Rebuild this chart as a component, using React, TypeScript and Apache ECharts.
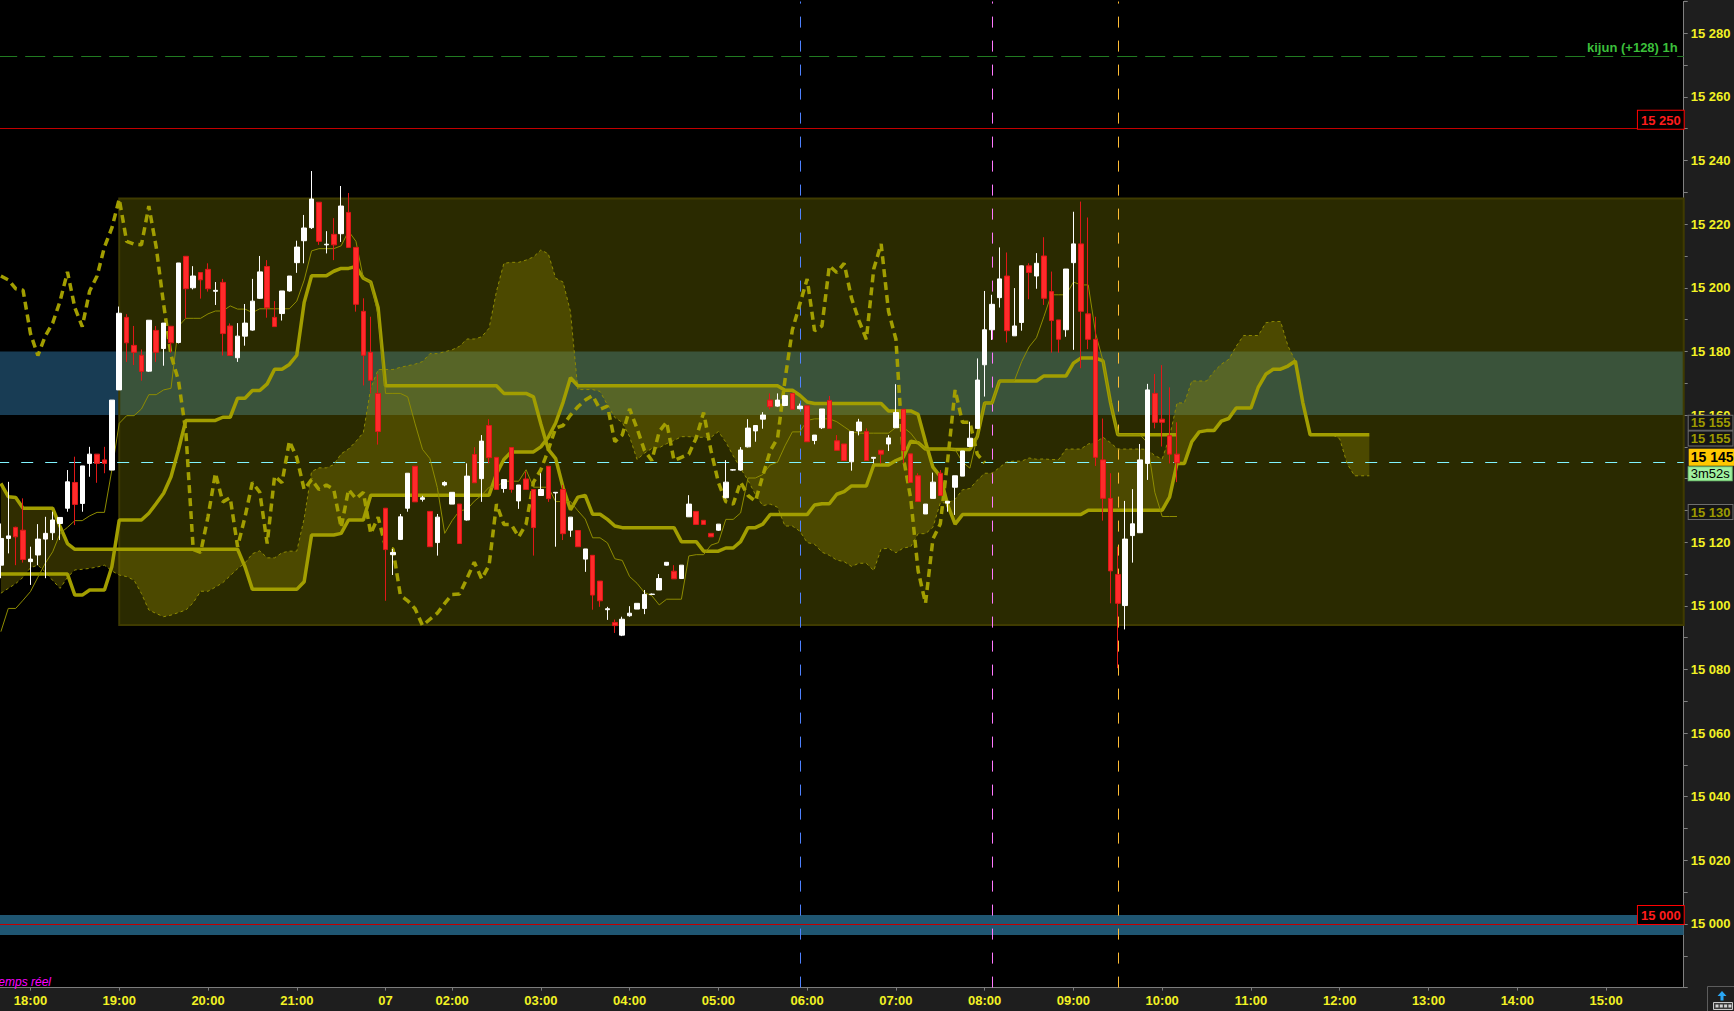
import React, { useEffect, useRef } from 'react';
import * as echarts from 'echarts';

// ---------- slots (5-minute bars); slot 0 = 18:00, slot 48 = 01:15 of day 07 ----------
const FIRST_SLOT = -4;
const SLOT_COUNT = 228;
const CHIKOU_SHIFT = 26;

const tickLabels: [number, string][] = [
  [0, '18:00'], [12, '19:00'], [24, '20:00'], [36, '21:00'], [48, '07'], [57, '02:00'],
  [69, '03:00'], [81, '04:00'], [93, '05:00'], [105, '06:00'], [117, '07:00'], [129, '08:00'],
  [141, '09:00'], [153, '10:00'], [165, '11:00'], [177, '12:00'], [189, '13:00'], [201, '14:00'],
  [213, '15:00'],
];

// [open, close, low, high] for slots -4 .. 155
const candles: number[][] = [
  [15112.8, 15121.2, 15108.7, 15125.9], [15121.2, 15122.0, 15116.5, 15139.0], [15124.7, 15121.7, 15112.8, 15124.9], [15123.8, 15114.6, 15113.6, 15133.8],
  [15113.9, 15114.7, 15106.6, 15118.6], [15116.0, 15121.0, 15112.8, 15125.7], [15121.0, 15122.8, 15108.7, 15128.0], [15123.0, 15127.0, 15120.7, 15129.6],
  [15125.9, 15127.8, 15120.7, 15127.8], [15130.7, 15139.0, 15129.6, 15142.7], [15138.8, 15131.9, 15125.4, 15146.9], [15132.2, 15144.0, 15129.6, 15144.0],
  [15144.8, 15147.7, 15140.6, 15150.0], [15147.7, 15144.8, 15138.7, 15147.7], [15145.9, 15144.8, 15141.7, 15150.0], [15142.7, 15164.7, 15142.7, 15164.7],
  [15167.9, 15192.0, 15167.9, 15194.1], [15190.7, 15182.7, 15176.7, 15191.7], [15181.9, 15179.7, 15175.7, 15188.0], [15178.8, 15173.7, 15170.8, 15180.6],
  [15173.8, 15189.8, 15173.6, 15189.8], [15186.6, 15179.7, 15176.7, 15188.0], [15180.9, 15188.9, 15175.5, 15188.9], [15187.9, 15182.7, 15179.6, 15187.9],
  [15182.8, 15207.8, 15182.5, 15207.8], [15209.9, 15199.7, 15190.4, 15209.9], [15200.0, 15203.7, 15199.5, 15206.8], [15204.8, 15202.5, 15196.6, 15204.8],
  [15205.8, 15199.7, 15198.8, 15207.7], [15198.9, 15199.2, 15194.6, 15201.8], [15201.7, 15185.6, 15178.7, 15202.8], [15188.0, 15178.7, 15178.7, 15188.8],
  [15178.0, 15184.8, 15176.7, 15188.9], [15184.8, 15188.9, 15181.8, 15194.9], [15186.7, 15195.8, 15186.5, 15202.8], [15196.7, 15205.0, 15196.5, 15210.0],
  [15206.7, 15193.7, 15190.6, 15208.7], [15190.7, 15187.8, 15187.8, 15195.8], [15191.9, 15199.0, 15189.7, 15199.0], [15199.0, 15203.7, 15198.8, 15203.7],
  [15207.9, 15212.8, 15204.7, 15214.8], [15214.8, 15218.8, 15207.7, 15222.9], [15218.9, 15227.9, 15218.5, 15236.7], [15226.9, 15214.6, 15213.5, 15226.9],
  [15213.5, 15213.7, 15210.8, 15217.8], [15216.8, 15213.5, 15208.7, 15221.9], [15217.0, 15225.7, 15214.4, 15232.0], [15223.7, 15212.7, 15212.7, 15229.8],
  [15212.7, 15194.8, 15192.5, 15212.7], [15192.6, 15178.8, 15169.3, 15196.7], [15179.7, 15170.9, 15166.8, 15190.9], [15166.8, 15154.8, 15150.7, 15172.8],
  [15130.7, 15117.7, 15101.6, 15130.7], [15116.1, 15116.8, 15109.7, 15117.9], [15120.9, 15128.0, 15120.7, 15128.9], [15130.7, 15141.7, 15129.6, 15141.7],
  [15143.9, 15132.7, 15132.7, 15143.9], [15133.5, 15134.0, 15132.8, 15134.6], [15129.7, 15118.6, 15118.6, 15129.7], [15119.9, 15127.9, 15115.8, 15128.9],
  [15138.0, 15138.8, 15137.6, 15139.2], [15132.0, 15135.7, 15132.0, 15135.7], [15132.0, 15119.6, 15119.6, 15132.0], [15127.0, 15140.8, 15126.8, 15144.8],
  [15147.6, 15138.7, 15138.7, 15149.9], [15140.0, 15151.8, 15132.7, 15153.7], [15156.7, 15146.6, 15144.8, 15158.7], [15146.7, 15136.6, 15136.6, 15146.7],
  [15136.9, 15139.7, 15135.6, 15139.7], [15149.8, 15136.6, 15135.6, 15149.8], [15133.0, 15138.0, 15130.5, 15138.0], [15139.9, 15136.6, 15136.6, 15142.2],
  [15136.6, 15124.6, 15115.8, 15136.6], [15134.7, 15136.6, 15134.7, 15141.7], [15143.9, 15133.7, 15132.7, 15143.9], [15135.5, 15135.7, 15118.6, 15135.7],
  [15136.6, 15122.7, 15120.7, 15138.0], [15123.8, 15127.9, 15121.7, 15127.9], [15123.7, 15118.6, 15118.6, 15123.7], [15114.7, 15117.9, 15110.7, 15117.9],
  [15115.9, 15103.4, 15098.8, 15115.9], [15107.8, 15101.6, 15099.7, 15107.8], [15098.8, 15099.1, 15095.6, 15099.7], [15094.8, 15093.8, 15091.5, 15095.7],
  [15090.8, 15095.8, 15090.5, 15096.6], [15096.9, 15097.7, 15096.6, 15099.9], [15099.0, 15100.8, 15099.0, 15100.8], [15099.2, 15103.6, 15097.4, 15105.0],
  [15103.6, 15103.7, 15103.4, 15103.9], [15105.0, 15108.6, 15105.0, 15110.0], [15112.8, 15113.7, 15112.6, 15113.7], [15110.9, 15108.5, 15108.5, 15112.8],
  [15108.6, 15112.8, 15108.5, 15112.8], [15128.0, 15132.0, 15128.0, 15134.8], [15129.7, 15125.6, 15125.6, 15129.7], [15126.9, 15125.6, 15125.6, 15126.9],
  [15122.8, 15121.7, 15121.7, 15122.8], [15123.8, 15125.7, 15123.6, 15125.7], [15134.0, 15138.9, 15133.8, 15145.8], [15142.7, 15142.8, 15142.5, 15143.0],
  [15142.7, 15149.0, 15142.5, 15149.9], [15150.0, 15155.9, 15149.8, 15158.7], [15155.0, 15156.7, 15151.6, 15156.7], [15158.7, 15160.0, 15155.7, 15160.9],
  [15164.7, 15162.6, 15161.8, 15166.8], [15162.8, 15164.7, 15162.6, 15166.8], [15163.0, 15166.1, 15162.8, 15166.3], [15166.8, 15161.8, 15161.8, 15166.8],
  [15162.0, 15162.8, 15161.8, 15163.6], [15162.9, 15151.6, 15151.6, 15162.9], [15152.0, 15153.7, 15150.8, 15153.7], [15156.0, 15161.9, 15155.6, 15161.9],
  [15164.6, 15155.8, 15155.8, 15166.0], [15151.9, 15148.9, 15148.9, 15153.7], [15150.9, 15145.7, 15145.7, 15150.9], [15145.3, 15154.8, 15142.5, 15154.8],
  [15155.0, 15157.8, 15153.6, 15158.8], [15154.8, 15145.7, 15145.7, 15155.8], [15146.4, 15146.7, 15144.8, 15146.7], [15148.9, 15147.7, 15144.8, 15148.9],
  [15150.9, 15152.8, 15148.7, 15153.7], [15156.0, 15160.8, 15156.0, 15169.7], [15161.8, 15148.8, 15144.8, 15161.8], [15147.8, 15138.8, 15138.8, 15147.8],
  [15140.9, 15132.8, 15132.8, 15141.7], [15128.9, 15132.0, 15128.9, 15132.0], [15133.8, 15138.9, 15133.8, 15141.9], [15141.7, 15134.7, 15134.7, 15142.7],
  [15132.3, 15132.9, 15129.6, 15132.9], [15137.3, 15140.9, 15128.6, 15140.9], [15140.8, 15148.7, 15140.8, 15148.7], [15150.1, 15152.7, 15150.1, 15157.9],
  [15155.8, 15171.0, 15155.8, 15177.8], [15175.8, 15186.8, 15165.8, 15199.0], [15186.8, 15194.8, 15183.6, 15197.8], [15196.9, 15202.8, 15193.8, 15212.7],
  [15203.7, 15186.5, 15182.8, 15211.1], [15184.9, 15188.0, 15184.9, 15199.9], [15189.1, 15206.9, 15186.5, 15207.0], [15206.9, 15204.8, 15196.4, 15207.7],
  [15203.7, 15207.7, 15199.7, 15210.9], [15210.0, 15196.7, 15194.6, 15215.9], [15198.8, 15189.7, 15179.6, 15205.1], [15189.9, 15183.8, 15179.6, 15189.9],
  [15186.8, 15205.9, 15184.6, 15205.9], [15207.9, 15213.8, 15180.5, 15223.9], [15213.8, 15192.6, 15174.7, 15227.1], [15191.8, 15183.8, 15180.7, 15222.1],
  [15183.8, 15146.7, 15144.0, 15190.9], [15145.9, 15133.8, 15126.8, 15158.9], [15133.8, 15111.0, 15100.8, 15141.7], [15109.9, 15100.8, 15080.4, 15118.6],
  [15100.1, 15121.0, 15092.6, 15133.0], [15122.1, 15125.8, 15113.6, 15136.7], [15123.0, 15145.9, 15123.0, 15150.9], [15144.8, 15167.9, 15139.6, 15169.8],
  [15166.8, 15157.7, 15155.8, 15172.9], [15158.7, 15157.7, 15150.1, 15175.7], [15153.5, 15147.7, 15144.8, 15168.7], [15147.7, 15145.0, 15138.9, 15157.7],
];

// thin line (slots -4 .. 155)
const tenkan: number[] = [
  15091.9, 15099.2, 15099.2, 15101.8, 15104.5, 15109.0, 15113.4, 15117.0, 15122.8, 15124.7,
  15126.8, 15126.8, 15128.3, 15129.4, 15129.4, 15142.7, 15157.4, 15159.8, 15159.8, 15161.9,
  15166.4, 15166.4, 15167.9, 15168.4, 15187.9, 15190.4, 15190.4, 15190.4, 15191.8, 15192.7,
  15192.7, 15194.3, 15193.3, 15193.3, 15192.2, 15193.4, 15193.4, 15193.4, 15193.4, 15193.4,
  15195.8, 15202.4, 15211.6, 15212.3, 15212.3, 15212.3, 15213.2, 15217.8, 15214.6, 15203.0,
  15201.8, 15191.4, 15166.8, 15166.8, 15166.8, 15165.7, 15157.2, 15149.2, 15146.3, 15137.2,
  15122.8, 15126.8, 15129.9, 15130.3, 15132.9, 15134.8, 15137.3, 15137.3, 15139.2, 15139.2,
  15139.2, 15142.8, 15137.3, 15137.3, 15137.3, 15132.8, 15132.8, 15132.8, 15129.9, 15127.3,
  15121.4, 15121.4, 15119.8, 15114.8, 15114.3, 15109.2, 15107.1, 15104.2, 15103.2, 15100.3,
  15102.1, 15102.1, 15102.1, 15115.7, 15116.1, 15116.1, 15119.1, 15119.9, 15127.2, 15127.2,
  15129.2, 15140.2, 15140.2, 15141.3, 15144.3, 15145.2, 15150.3, 15154.7, 15154.7, 15158.3,
  15158.8, 15158.8, 15158.8, 15157.9, 15156.3, 15154.7, 15154.3, 15154.3, 15154.3, 15154.3,
  15154.3, 15156.1, 15156.1, 15154.3, 15151.3, 15149.3, 15149.3, 15149.3, 15149.3, 15149.2,
  15145.2, 15143.3, 15153.2, 15163.8, 15163.8, 15170.7, 15170.7, 15170.7, 15176.8, 15181.4,
  15184.3, 15190.9, 15197.8, 15197.8, 15197.8, 15201.8, 15200.9, 15200.9, 15185.6, 15177.0,
  15164.0, 15153.8, 15153.8, 15153.8, 15153.8, 15151.3, 15135.7, 15128.1, 15128.1, 15128.1,
];

// thick base line (slots -4 .. 155)
const kijun: number[] = [
  15110.0, 15110.0, 15110.0, 15110.0, 15110.0, 15110.0, 15110.0, 15110.0, 15110.0, 15110.0,
  15103.4, 15103.4, 15105.0, 15105.0, 15105.0, 15112.3, 15127.0, 15127.0, 15127.0, 15127.0,
  15129.1, 15132.2, 15135.4, 15140.6, 15149.0, 15158.3, 15158.3, 15158.3, 15158.3, 15158.3,
  15159.3, 15159.3, 15165.3, 15165.3, 15167.7, 15167.7, 15169.8, 15174.4, 15174.4, 15175.9,
  15178.8, 15195.4, 15203.8, 15203.8, 15203.8, 15205.2, 15206.1, 15206.1, 15206.7, 15203.0,
  15201.8, 15193.7, 15169.2, 15169.2, 15169.2, 15169.2, 15169.2, 15169.2, 15169.2, 15169.2,
  15169.2, 15169.2, 15169.2, 15169.2, 15169.2, 15169.2, 15169.2, 15169.2, 15166.8, 15166.8,
  15166.8, 15166.8, 15165.7, 15157.2, 15149.2, 15146.3, 15137.2, 15130.2, 15134.2, 15134.7,
  15128.8, 15128.8, 15127.2, 15125.1, 15124.6, 15124.6, 15124.6, 15124.6, 15124.6, 15124.6,
  15124.6, 15124.6, 15120.2, 15120.2, 15120.2, 15117.2, 15117.2, 15117.2, 15118.2, 15118.2,
  15120.2, 15124.6, 15124.6, 15125.7, 15128.7, 15128.7, 15128.7, 15128.7, 15128.7, 15128.7,
  15131.7, 15132.1, 15132.1, 15135.1, 15135.9, 15137.7, 15137.7, 15137.7, 15144.3, 15144.3,
  15144.3, 15145.7, 15146.7, 15151.8, 15151.3, 15149.3, 15149.3, 15149.3, 15149.3, 15149.2,
  15149.2, 15149.2, 15153.2, 15163.8, 15163.8, 15170.7, 15170.7, 15170.7, 15170.7, 15170.7,
  15170.7, 15172.3, 15172.3, 15172.3, 15172.3, 15176.3, 15177.9, 15177.9, 15177.9, 15177.0,
  15164.0, 15153.8, 15153.8, 15153.8, 15153.8, 15153.8, 15153.8, 15153.8, 15153.8, 15153.8,
];

// cloud edge A (thin dashed), slots -4 .. 181
const senkouA: number[] = [
  15104.0, 15105.5, 15107.0, 15109.0, 15112.0, 15112.8, 15110.7, 15108.0, 15105.5, 15109.0,
  15111.3, 15111.5, 15111.8, 15112.2, 15112.8, 15111.0, 15109.7, 15109.2, 15108.1, 15103.9,
  15098.7, 15097.6, 15096.6, 15097.1, 15097.9, 15098.7, 15101.0, 15104.6, 15104.6, 15105.9,
  15107.3, 15109.5, 15111.7, 15113.5, 15116.4, 15117.3, 15115.1, 15115.1, 15116.7, 15117.2,
  15117.2, 15127.5, 15142.2, 15143.4, 15143.4, 15144.4, 15147.8, 15149.3, 15151.7, 15154.5,
  15168.4, 15174.3, 15174.3, 15174.3, 15175.0, 15175.5, 15176.0, 15176.8, 15179.3, 15179.3,
  15179.9, 15180.5, 15181.6, 15183.9, 15183.9, 15184.6, 15187.3, 15198.9, 15207.7, 15208.0,
  15208.0, 15208.7, 15209.7, 15211.9, 15210.7, 15203.0, 15201.8, 15192.5, 15168.0, 15168.0,
  15168.0, 15167.4, 15163.2, 15159.2, 15157.7, 15153.2, 15146.0, 15148.0, 15149.5, 15149.7,
  15151.0, 15152.0, 15153.2, 15153.2, 15153.0, 15153.0, 15153.0, 15154.8, 15151.5, 15147.2,
  15143.2, 15139.5, 15135.0, 15131.5, 15132.0, 15131.0, 15125.1, 15125.1, 15123.5, 15119.9,
  15119.4, 15116.9, 15115.9, 15114.4, 15113.9, 15112.4, 15113.4, 15113.4, 15111.1, 15117.9,
  15118.1, 15116.7, 15118.2, 15118.6, 15122.7, 15122.7, 15124.7, 15132.4, 15132.4, 15133.5,
  15136.5, 15136.9, 15139.5, 15141.7, 15141.7, 15143.5, 15145.3, 15145.5, 15145.5, 15146.5,
  15146.1, 15146.2, 15146.0, 15146.0, 15149.3, 15149.3, 15149.3, 15150.9, 15151.4, 15153.0,
  15151.3, 15149.3, 15149.3, 15149.3, 15149.3, 15149.2, 15147.2, 15146.2, 15153.2, 15163.8,
  15163.8, 15170.7, 15170.7, 15170.7, 15173.7, 15176.0, 15177.5, 15181.6, 15185.0, 15185.0,
  15185.0, 15189.0, 15189.4, 15189.4, 15181.7, 15177.0, 15164.0, 15153.8, 15153.8, 15153.8,
  15153.8, 15152.5, 15144.7, 15140.9, 15140.9, 15140.9,
];

// cloud edge B (thick), slots -4 .. 181
const senkouB: number[] = [
  15138.5, 15134.3, 15134.1, 15130.7, 15130.7, 15130.7, 15130.7, 15130.7, 15125.0, 15119.6,
  15117.8, 15117.8, 15117.8, 15117.8, 15117.8, 15117.8, 15117.8, 15117.8, 15117.8, 15117.8,
  15117.8, 15117.8, 15117.8, 15117.8, 15117.8, 15117.8, 15117.8, 15117.8, 15117.8, 15117.8,
  15117.8, 15117.8, 15117.8, 15112.3, 15105.2, 15105.2, 15105.2, 15105.2, 15105.2, 15105.2,
  15105.2, 15107.6, 15122.3, 15122.3, 15122.3, 15122.3, 15122.8, 15127.0, 15127.0, 15127.0,
  15134.8, 15134.8, 15134.8, 15134.8, 15134.8, 15134.8, 15134.8, 15134.8, 15134.8, 15134.8,
  15134.8, 15134.8, 15134.8, 15134.8, 15134.8, 15134.8, 15134.8, 15141.5, 15146.0, 15148.4,
  15148.4, 15148.4, 15148.4, 15150.0, 15153.0, 15157.5, 15164.0, 15171.7, 15169.2, 15169.2,
  15169.2, 15169.2, 15169.2, 15169.2, 15169.2, 15169.2, 15169.2, 15169.2, 15169.2, 15169.2,
  15169.2, 15169.2, 15169.2, 15169.2, 15169.2, 15169.2, 15169.2, 15169.2, 15169.2, 15169.2,
  15169.2, 15169.2, 15169.2, 15169.2, 15169.2, 15169.2, 15167.8, 15167.8, 15166.2, 15164.1,
  15163.6, 15163.6, 15163.6, 15163.6, 15163.6, 15163.6, 15163.6, 15163.6, 15163.6, 15163.6,
  15161.3, 15161.3, 15161.3, 15161.3, 15160.2, 15151.6, 15143.6, 15140.7, 15131.7, 15125.7,
  15128.7, 15128.7, 15128.7, 15128.7, 15128.7, 15128.7, 15128.7, 15128.7, 15128.7, 15128.7,
  15128.7, 15128.7, 15128.7, 15128.7, 15128.7, 15128.7, 15128.7, 15130.1, 15130.1, 15130.1,
  15130.1, 15130.1, 15130.1, 15130.1, 15130.1, 15130.1, 15130.1, 15130.1, 15134.2, 15144.8,
  15144.8, 15151.6, 15154.7, 15155.1, 15155.1, 15158.1, 15158.9, 15162.2, 15162.2, 15162.2,
  15168.8, 15172.8, 15174.4, 15174.4, 15175.4, 15177.0, 15164.0, 15153.8, 15153.8, 15153.8,
  15153.8, 15153.8, 15153.8, 15153.8, 15153.8, 15153.8,
];

// horizontal references
const blueZone = [15160, 15180];
const roundZone = [14996.5, 15002.8];
const rangeBox = { fromSlot: 12, top: 15228.1, bottom: 15094.0 };
const kijunH1Level = 15272.9;
const redLevels = [15250, 15000];
const lastPrice = 15145;
const lastPriceTagLevel = 15146.7;
const countdown = '3m52s';
const countdownLevel = 15141.5;
const axisTags: [number, string][] = [[15157.6, '15 155'], [15152.6, '15 155'], [15129.5, '15 130']];
const hiddenAxisLabels = [14980, 15140];
// vertical markers (slot, colour)
const verticalMarks: [number, string][] = [[104, '#4f82ff'], [130, '#ff78ff'], [147, '#ffbd35']];

// ---------- helpers ----------
const pad = (n: number) => (n < 10 ? '0' : '') + n;
const slotTime = (slot: number) => {
  const minutes = slot < 48 ? 18 * 60 + 5 * slot : 75 + 5 * (slot - 48);
  return pad(Math.floor(minutes / 60) % 24) + ':' + pad(minutes % 60);
};
const categories = Array.from({ length: SLOT_COUNT }, (_, k) => slotTime(k + FIRST_SLOT));
const labelMap = new Map<number, string>(tickLabels);
const isLabelled = (index: number) => labelMap.has(index + FIRST_SLOT);
const spaced = (n: number) => String(n).replace(/\B(?=(\d{3})+(?!\d))/g, ' ');
const cat = (slot: number) => slot - FIRST_SLOT;

const closes = candles.map((c) => c[1]);
const chikou = closes.slice(CHIKOU_SHIFT);

const FONT = '"Liberation Sans", Arial, sans-serif';
const OLIVE = '#a29e00';
const YELLOW = '#f2f224';

function buildOption(): any {
  const tagLabel = (text: string) => ({
    show: true, position: 'end', formatter: text, distance: 5,
    color: '#9c9a00', backgroundColor: '#151515', borderColor: '#6e6e6e', borderWidth: 1,
    padding: [1, 2, 0, 2], fontSize: 13, fontWeight: 'bold', fontFamily: FONT, lineHeight: 13,
  });
  const noLine = { width: 0, color: 'rgba(0,0,0,0)' };

  return {
    animation: false,
    backgroundColor: '#000000',
    textStyle: { fontFamily: FONT },
    grid: { left: -2.8, right: 50.3, top: 1.5, bottom: 23.4, outerBoundsMode: 'none', containLabel: false },
    xAxis: {
      type: 'category',
      data: categories,
      boundaryGap: true,
      axisLine: { show: true, lineStyle: { color: '#7c7c7c', width: 1 } },
      axisTick: { show: true, alignWithLabel: true, interval: (i: number) => isLabelled(i), length: 3, lineStyle: { color: '#7c7c7c' } },
      axisLabel: {
        interval: (i: number) => isLabelled(i),
        formatter: (_v: string, i: number) => labelMap.get(i + FIRST_SLOT) || '',
        color: YELLOW, fontSize: 13, fontWeight: 'bold', fontFamily: FONT, margin: 6,
      },
      splitLine: { show: false },
    },
    yAxis: {
      type: 'value',
      position: 'right',
      min: 14980,
      max: 15290,
      interval: 20,
      scale: true,
      axisLine: { show: true, lineStyle: { color: '#808080' } },
      axisTick: { show: true, length: 4, lineStyle: { color: '#808080' } },
      minorTick: { show: true, splitNumber: 2, length: 4, lineStyle: { color: '#808080' } },
      axisLabel: {
        formatter: (v: number) => {
          const r = Math.round(v);
          if (Math.abs(v - r) > 0.01 || r % 20 !== 0 || hiddenAxisLabels.indexOf(r) >= 0) return '';
          return spaced(r);
        },
        color: YELLOW, fontSize: 13, fontWeight: 'bold', fontFamily: FONT, margin: 7,
      },
      splitLine: { show: false },
    },
    graphic: {
      elements: [
        { type: 'rect', z: -10, silent: true, shape: { x: 1684, y: 0, width: 50, height: 1011 }, style: { fill: '#1e1e1e' } },
        { type: 'rect', z: -10, silent: true, shape: { x: 0, y: 988, width: 1734, height: 23 }, style: { fill: '#1e1e1e' } },
        { type: 'text', z: 20, silent: true, x: -5, y: 982, style: { text: 'temps réel', fill: '#ff00ff', font: 'italic 12px "Liberation Sans", Arial, sans-serif', verticalAlign: 'middle', align: 'left' } },
        { type: 'rect', z: 20, silent: true, shape: { x: 1707.5, y: 986.5, width: 27, height: 25 }, style: { fill: '#1e1e1e', stroke: '#5c5c5c', lineWidth: 1 } },
        { type: 'polygon', z: 21, silent: true, shape: { points: [[1722, 991], [1717.5, 996], [1720.5, 996], [1720.5, 1000.5], [1723.5, 1000.5], [1723.5, 996], [1726.5, 996]] }, style: { fill: '#2aa6f4' } },
        { type: 'rect', z: 21, silent: true, shape: { x: 1713.5, y: 1002.5, width: 19, height: 7 }, style: { fill: '#3a3a3a', stroke: '#c8c8c8', lineWidth: 1 } },
        { type: 'rect', z: 22, silent: true, shape: { x: 1715.5, y: 1004.5, width: 3, height: 3 }, style: { fill: '#d0d0d0' } },
        { type: 'rect', z: 22, silent: true, shape: { x: 1719.8, y: 1004.5, width: 3, height: 3 }, style: { fill: '#d0d0d0' } },
        { type: 'rect', z: 22, silent: true, shape: { x: 1724.1, y: 1004.5, width: 3, height: 3 }, style: { fill: '#d0d0d0' } },
        { type: 'rect', z: 22, silent: true, shape: { x: 1728.4, y: 1004.5, width: 3, height: 3 }, style: { fill: '#d0d0d0' } },
      ],
    },
    series: [
      {
        type: 'line', name: 'zones', data: [], silent: true, z: 1,
        markArea: {
          silent: true, z: 1,
          data: [
            [{ yAxis: blueZone[0], itemStyle: { color: 'rgba(40,100,140,0.6)' } }, { yAxis: blueZone[1] }],
            [{ yAxis: roundZone[0], itemStyle: { color: '#1f5672' } }, { yAxis: roundZone[1] }],
          ],
        },
      },
      {
        type: 'line', name: 'range', data: [], silent: true, z: 2,
        markArea: {
          silent: true, z: 2,
          data: [[
            { xAxis: cat(rangeBox.fromSlot), yAxis: rangeBox.top, itemStyle: { color: 'rgba(140,140,0,0.3)', borderColor: '#3f3b00', borderWidth: 2 } },
            { yAxis: rangeBox.bottom },
          ]],
        },
      },
      {
        type: 'custom', name: 'cloud', z: 3, silent: true, clip: true,
        data: [[0, senkouA[0]]],
        renderItem: (_params: any, api: any) => {
          const pts: number[][] = [];
          for (let k = 0; k < senkouA.length; k++) pts.push(api.coord([k, senkouA[k]]));
          for (let k = senkouB.length - 1; k >= 0; k--) pts.push(api.coord([k, senkouB[k]]));
          return { type: 'polygon', shape: { points: pts }, style: { fill: 'rgba(150,140,0,0.32)', stroke: 'none' } };
        },
      },
      {
        type: 'line', name: 'refs', data: [], silent: true, z: 4,
        markLine: {
          silent: true, z: 4, symbol: ['none', 'none'], label: { show: false },
          data: [
            {
              yAxis: kijunH1Level, lineStyle: { color: '#217a21', width: 1, type: [20, 8] },
              label: { show: true, position: 'insideEndTop', formatter: 'kijun (+128) 1h', color: '#3bbf3b', fontSize: 13, fontWeight: 'bold', fontFamily: FONT, distance: [6, 2] },
            },
            ...redLevels.map((lv) => ({
              yAxis: lv, lineStyle: { color: '#c20000', width: 1, type: 'solid' },
              label: {
                show: true, position: 'insideEndTop', formatter: spaced(lv), color: '#ff1c1c', backgroundColor: '#000000',
                borderColor: '#ff0000', borderWidth: 1, padding: [2, 3, 1, 3], fontSize: 13, fontWeight: 'bold', fontFamily: FONT, lineHeight: 15, distance: [0, 0],
              },
            })),
            { yAxis: lastPrice, lineStyle: { color: '#80f4ff', width: 1, type: [12, 12] } },
            ...verticalMarks.map(([slot, color]) => ({ xAxis: cat(slot), lineStyle: { color, width: 1, type: [11, 13] } })),
          ],
        },
      },
      {
        type: 'line', name: 'senkouA', data: senkouA, z: 5, silent: true, symbol: 'none', showSymbol: false,
        lineStyle: { color: '#8e8a00', width: 1, type: [3, 3] },
      },
      {
        type: 'line', name: 'senkouB', data: senkouB, z: 6, silent: true, symbol: 'none', showSymbol: false,
        lineStyle: { color: OLIVE, width: 3.5 },
      },
      {
        type: 'line', name: 'kijun', data: kijun, z: 6, silent: true, symbol: 'none', showSymbol: false,
        lineStyle: { color: OLIVE, width: 3.5 },
      },
      {
        type: 'line', name: 'tenkan', data: tenkan, z: 6, silent: true, symbol: 'none', showSymbol: false,
        lineStyle: { color: '#8e8c00', width: 1 },
      },
      {
        type: 'line', name: 'chikou', data: chikou, z: 6, silent: true, symbol: 'none', showSymbol: false,
        lineStyle: { color: OLIVE, width: 3.5, type: [8, 5] },
      },
      {
        type: 'candlestick', name: 'price', data: candles, z: 7, silent: true, barWidth: 5,
        itemStyle: { color: '#ffffff', color0: '#ff2b2b', borderColor: '#ffffff', borderColor0: '#e01818', borderWidth: 1 },
      },
      {
        type: 'line', name: 'tags', data: [], silent: true, z: 10, clip: false,
        markLine: {
          silent: true, z: 10, symbol: ['none', 'none'], label: { show: false },
          data: [
            ...axisTags.map(([lv, text]) => ({ yAxis: lv, lineStyle: noLine, label: tagLabel(text) })),
            {
              yAxis: lastPriceTagLevel, lineStyle: noLine,
              label: { show: true, position: 'end', distance: 5, formatter: spaced(lastPrice), color: '#000000', backgroundColor: '#ffc800', padding: [2, 4, 1, 2], fontSize: 14, fontWeight: 'bold', fontFamily: FONT, lineHeight: 14 },
            },
            {
              yAxis: countdownLevel, lineStyle: noLine,
              label: { show: true, position: 'end', distance: 5, formatter: countdown, color: '#000000', backgroundColor: '#9ff09f', borderColor: '#6fc06f', borderWidth: 1, padding: [0, 2, 0, 2], fontSize: 13, fontFamily: FONT, lineHeight: 13 },
            },
          ],
        },
      },
    ],
  };
}

export default function App() {
  const ref = useRef<HTMLDivElement>(null);
  useEffect(() => {
    if (!ref.current) return;
    const chart = echarts.init(ref.current, null, { renderer: 'svg' });
    chart.setOption(buildOption());
    return () => chart.dispose();
  }, []);
  return (
    <div
      ref={ref}
      style={{ position: 'absolute', left: 0, top: 0, width: 1734, height: 1011, background: '#000' }}
    />
  );
}
